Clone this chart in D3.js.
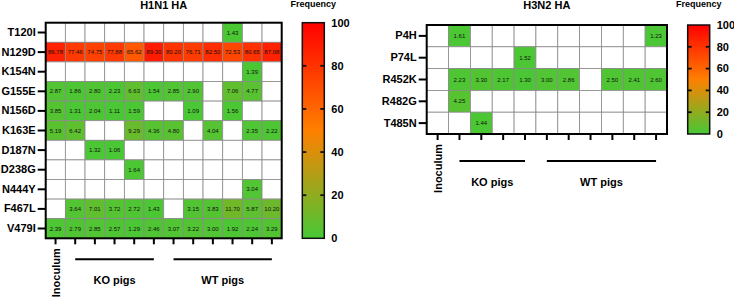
<!DOCTYPE html>
<html>
<head>
<meta charset="utf-8">
<script src="https://cdn.jsdelivr.net/npm/d3@7"></script>
<style>
  body { margin: 0; background: #fff; }
  svg { display: block; font-family: "Liberation Sans", Arial, sans-serif; }
</style>
</head>
<body>
<div id="chart"></div>
<script>
// ---- data ----
const h1Mutations = ["T120I", "N129D", "K154N", "G155E", "N156D", "K163E", "D187N", "D238G", "N444Y", "F467L", "V479I"];
const h1Samples = ["Inoculum", "KO-1", "KO-2", "KO-3", "KO-4", "KO-5", "WT-1", "WT-2", "WT-3", "WT-4", "WT-5", "WT-6"];
const h1Freq = [
    [null, null, null, null, null, null, null, null, null, 1.43, null, null],
    [86.78, 77.46, 74.75, 77.88, 65.62, 89.30, 80.20, 76.71, 82.50, 72.53, 80.65, 87.08],
    [null, null, null, null, null, null, null, null, null, null, 1.39, null],
    [2.87, 1.86, 2.80, 2.23, 6.63, 1.54, 2.85, 2.90, null, 7.06, 4.77, null],
    [3.85, 1.31, 2.04, 1.11, 1.59, null, null, 1.09, null, 1.56, null, null],
    [5.19, 6.42, null, null, 9.29, 4.36, 4.80, null, 4.04, null, 2.35, 2.22],
    [null, null, 1.32, 1.06, null, null, null, null, null, null, null, null],
    [null, null, null, null, 1.64, null, null, null, null, null, null, null],
    [null, null, null, null, null, null, null, null, null, null, 3.04, null],
    [null, 3.64, 7.01, 3.72, 2.72, 1.43, null, 3.15, 3.83, 11.70, 5.87, 10.20],
    [2.39, 2.79, 2.85, 2.57, 1.29, 2.46, 3.07, 3.22, 3.00, 1.92, 2.24, 3.29]
];
const h1Groups = [
    { label: "KO pigs", from: "KO-1", to: "KO-5" },
    { label: "WT pigs", from: "WT-1", to: "WT-6" }
];

const h3Mutations = ["P4H", "P74L", "R452K", "R482G", "T485N"];
const h3Samples = ["Inoculum", "KO-1", "KO-2", "KO-3", "KO-4", "WT-1", "WT-2", "WT-3", "WT-4", "WT-5", "WT-6"];
const h3Freq = [
    [null, 1.61, null, null, null, null, null, null, null, null, 1.23],
    [null, null, null, null, 1.52, null, null, null, null, null, null],
    [null, 2.23, 3.30, 2.17, 1.30, 3.00, 2.86, null, 2.50, 2.41, 2.60],
    [null, 4.25, null, null, null, null, null, null, null, null, null],
    [null, null, 1.44, null, null, null, null, null, null, null, null]
];
const h3Groups = [
    { label: "KO pigs", from: "KO-1", to: "KO-4" },
    { label: "WT pigs", from: "WT-1", to: "WT-6" }
];

const legendTicks = [0, 20, 40, 60, 80, 100];

// ---- colour: green -> orange -> red ----
const color = d3.scaleLinear()
    .domain([0, 50, 100])
    .range(["#46c936", "#ff8000", "#ff0000"])
    .interpolate(d3.interpolateRgb);

const svg = d3.select("#chart").append("svg")
    .attr("width", 734)
    .attr("height", 300);

const defs = svg.append("defs");
const grad = defs.append("linearGradient")
    .attr("id", "freqGrad")
    .attr("x1", 0).attr("y1", 1).attr("x2", 0).attr("y2", 0);
d3.range(0, 101, 10).forEach(v => {
    grad.append("stop").attr("offset", v + "%").attr("stop-color", color(v));
});

function drawPanel(opts) {
    const { title, rows, cols, values, groups, box, groupLineY, legendX } = opts;

    const g = svg.append("g");

    const x = d3.scaleBand().domain(cols).range([box.left, box.right]).padding(0);
    const y = d3.scaleBand().domain(rows).range([box.top, box.bottom]).padding(0);

    // cells
    const flat = [];
    rows.forEach((r, i) => cols.forEach((c, j) => flat.push({ row: r, col: c, v: values[i][j] })));

    g.selectAll(".cell")
        .data(flat)
        .enter()
        .append("rect")
        .attr("x", d => x(d.col))
        .attr("y", d => y(d.row))
        .attr("width", x.bandwidth())
        .attr("height", y.bandwidth())
        .style("fill", d => d.v == null ? "#ffffff" : color(d.v))
        .style("stroke", "#8a8a8a")
        .style("stroke-width", 0.8);

    g.selectAll(".cell-text")
        .data(flat.filter(d => d.v != null))
        .enter()
        .append("text")
        .attr("x", d => x(d.col) + x.bandwidth() / 2)
        .attr("y", d => y(d.row) + y.bandwidth() / 2)
        .attr("dy", "0.35em")
        .style("text-anchor", "middle")
        .style("font-size", "6px")
        .style("fill", "#111")
        .text(d => d3.format(".2f")(d.v));

    // frame
    g.append("rect")
        .attr("x", box.left)
        .attr("y", box.top)
        .attr("width", box.right - box.left)
        .attr("height", box.bottom - box.top)
        .style("fill", "none")
        .style("stroke", "#000")
        .style("stroke-width", 2);

    // left axis
    const yAxis = g.append("g")
        .attr("transform", `translate(${box.left},0)`)
        .call(d3.axisLeft(y).tickSize(8).tickPadding(2));
    yAxis.select(".domain").remove();
    yAxis.selectAll("line").style("stroke", "#000").style("stroke-width", 2);
    yAxis.selectAll("text")
        .style("font-size", "11px")
        .style("font-weight", "bold")
        .style("font-family", "'Liberation Sans', Arial, sans-serif")
        .style("fill", "#000");

    // bottom axis ticks (labels drawn separately)
    const xAxis = g.append("g")
        .attr("transform", `translate(0,${box.bottom})`)
        .call(d3.axisBottom(x).tickSize(6).tickFormat(""));
    xAxis.select(".domain").remove();
    xAxis.selectAll("line").style("stroke", "#000").style("stroke-width", 2);

    // Inoculum label
    const c0 = cols[0];
    g.append("text")
        .attr("transform", `translate(${x(c0) + x.bandwidth() / 2 + 4},${box.bottom + 10}) rotate(-90)`)
        .style("text-anchor", "end")
        .style("font-size", "11px")
        .style("font-weight", "bold")
        .text("Inoculum");

    // group brackets
    groups.forEach(gr => {
        const xa = x(gr.from) + x.bandwidth() / 2;
        const xb = x(gr.to) + x.bandwidth() / 2;
        g.append("line")
            .attr("x1", xa).attr("x2", xb)
            .attr("y1", groupLineY).attr("y2", groupLineY)
            .style("stroke", "#000")
            .style("stroke-width", 2);
        g.append("text")
            .attr("x", (xa + xb) / 2)
            .attr("y", groupLineY + 21)
            .attr("dy", "0.35em")
            .style("text-anchor", "middle")
            .style("font-size", "11px")
            .style("font-weight", "bold")
            .text(gr.label);
    });

    // title
    g.append("text")
        .attr("x", (box.left + box.right) / 2)
        .attr("y", 9)
        .style("text-anchor", "middle")
        .style("font-size", "11px")
        .style("font-weight", "bold")
        .text(title);

    // colour legend
    const lw = 22;
    const ly = d3.scaleLinear().domain([0, 100]).range([box.bottom, box.top]);
    const leg = g.append("g");
    leg.append("rect")
        .attr("x", legendX)
        .attr("y", ly(100))
        .attr("width", lw)
        .attr("height", ly(0) - ly(100))
        .style("fill", "url(#freqGrad)")
        .style("stroke", "#111")
        .style("stroke-width", 1.5);

    legendTicks.filter(t => t > 0 && t < 100).forEach(t => {
        leg.append("line")
            .attr("x1", legendX).attr("x2", legendX + 4)
            .attr("y1", ly(t)).attr("y2", ly(t))
            .style("stroke", "#111").style("stroke-width", 1.8);
        leg.append("line")
            .attr("x1", legendX + lw - 4).attr("x2", legendX + lw)
            .attr("y1", ly(t)).attr("y2", ly(t))
            .style("stroke", "#111").style("stroke-width", 1.8);
    });

    leg.selectAll(".leg-label")
        .data(legendTicks)
        .enter()
        .append("text")
        .attr("x", legendX + lw + 7)
        .attr("y", d => ly(d))
        .attr("dy", "0.35em")
        .style("font-size", "11px")
        .style("font-weight", "bold")
        .text(d => d);

    leg.append("text")
        .attr("x", legendX + lw / 2)
        .attr("y", 7)
        .style("text-anchor", "middle")
        .style("font-size", "9px")
        .style("font-weight", "bold")
        .text("Frequency");
}

drawPanel({
    title: "H1N1 HA",
    rows: h1Mutations,
    cols: h1Samples,
    values: h1Freq,
    groups: h1Groups,
    box: { left: 45.7, right: 281.7, top: 22.7, bottom: 238.3 },
    groupLineY: 259.3,
    legendX: 302.3
});

drawPanel({
    title: "H3N2 HA",
    rows: h3Mutations,
    cols: h3Samples,
    values: h3Freq,
    groups: h3Groups,
    box: { left: 426.7, right: 667, top: 25, bottom: 134 },
    groupLineY: 161,
    legendX: 687.7
});
</script>
</body>
</html>
